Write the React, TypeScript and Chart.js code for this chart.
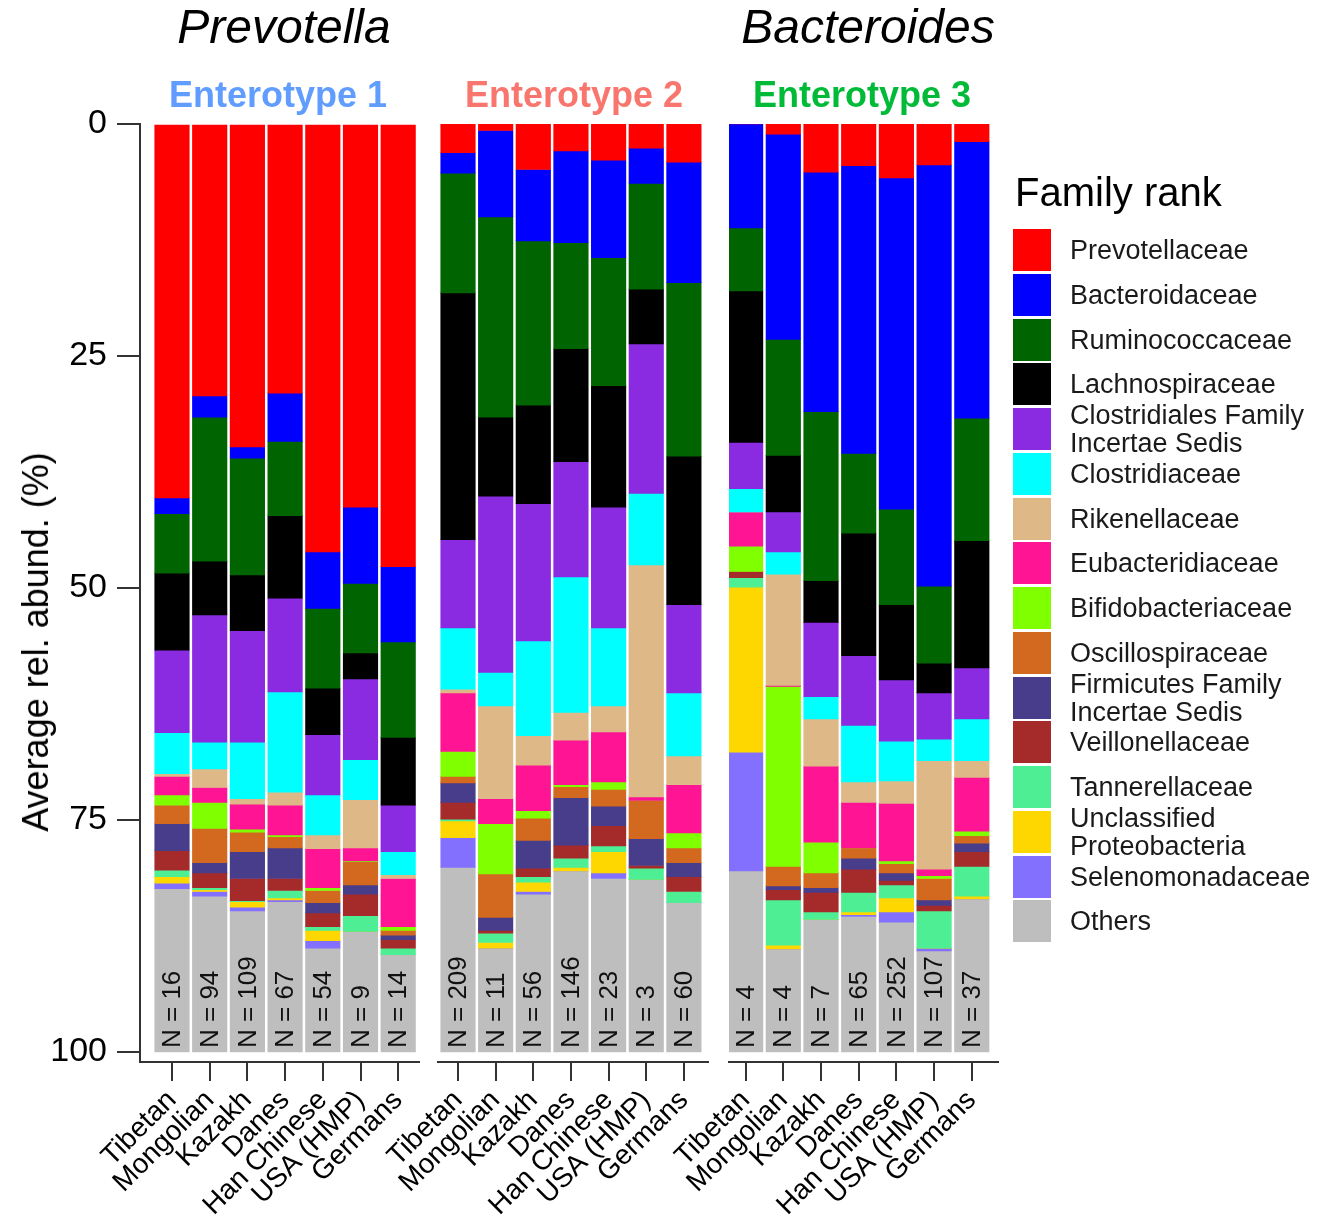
import React, { useEffect, useRef } from "react";
import { Chart, registerables } from "chart.js";

Chart.register(...registerables);

const FONT = "'Liberation Sans', Arial, Helvetica, sans-serif";

// ---------- data ----------
const populations = ["Tibetan", "Mongolian", "Kazakh", "Danes", "Han Chinese", "USA (HMP)", "Germans"];
const enterotypeNames = ["Enterotype 1", "Enterotype 2", "Enterotype 3"];
const enterotypeColors = ["#619CFF", "#F8766D", "#00BA38"];
const sampleSizesE1 = [16, 94, 109, 67, 54, 9, 14];
const sampleSizesE2 = [209, 11, 56, 146, 23, 3, 60];
const sampleSizesE3 = [4, 4, 7, 65, 252, 107, 37];
const yTicks = [0, 25, 50, 75, 100];

// each family: Enterotype 1 (7 populations), Enterotype 2 (7), Enterotype 3 (7)
const prevotellaceae = [40.3, 29.3, 34.8, 29.0, 46.1, 41.3, 47.7, 3.1, 0.7, 4.9, 2.9, 3.9, 2.6, 4.1, 0, 1.1, 5.2, 4.5, 5.8, 4.4, 1.9];
const bacteroidaceae = [1.7, 2.3, 1.2, 5.2, 6.1, 8.2, 8.1, 2.2, 9.3, 7.7, 9.9, 10.5, 3.8, 13.0, 11.2, 22.1, 25.8, 31.0, 35.7, 45.4, 29.8];
const ruminococcaceae = [6.4, 15.5, 12.6, 8.0, 8.6, 7.5, 10.3, 12.9, 21.6, 17.7, 11.4, 13.8, 11.4, 18.7, 6.8, 12.5, 18.2, 8.6, 10.3, 8.3, 13.2];
const lachnospiraceae = [8.3, 5.8, 6.0, 8.9, 5.0, 2.8, 7.3, 26.6, 8.5, 10.6, 12.2, 13.1, 5.9, 16.0, 16.3, 6.1, 4.5, 13.2, 8.1, 3.2, 13.7];
const clostridialesFIS = [8.9, 13.7, 12.0, 10.1, 6.5, 8.7, 5.0, 9.5, 19.0, 14.8, 12.4, 13.0, 16.1, 9.5, 5.0, 4.3, 8.0, 7.5, 6.6, 5.0, 5.5];
const clostridiaceae = [4.4, 2.9, 6.1, 10.8, 4.3, 4.3, 2.5, 6.6, 3.6, 10.2, 14.6, 8.4, 7.7, 6.8, 2.5, 2.4, 2.4, 6.1, 4.3, 2.3, 4.5];
const rikenellaceae = [0.3, 2.0, 0.6, 1.4, 1.5, 5.2, 0.4, 0.4, 10.0, 3.2, 3.0, 2.8, 25.0, 3.1, 0, 12.0, 5.1, 2.2, 2.4, 11.7, 1.8];
const eubacteridiaceae = [2.0, 1.6, 2.7, 3.2, 4.2, 1.4, 5.2, 6.3, 2.7, 4.9, 4.8, 5.4, 0.4, 5.2, 3.7, 0.1, 8.2, 4.9, 6.2, 0.7, 5.8];
const bifidobacteriaceae = [1.1, 2.8, 0.3, 0.2, 0.3, 0.1, 0.4, 2.7, 5.4, 0.8, 0.2, 0.8, 0, 1.6, 2.7, 19.4, 3.3, 0, 0.3, 0.3, 0.5];
const oscillospiraceae = [2.0, 3.7, 2.1, 1.2, 1.3, 2.5, 0.5, 0.7, 4.7, 2.4, 1.2, 1.8, 4.1, 1.6, 0, 2.1, 1.6, 1.1, 1.0, 2.3, 0.8];
const firmicutesFIS = [2.9, 1.1, 2.9, 3.3, 1.1, 1.0, 0.5, 2.1, 1.4, 3.0, 5.1, 2.1, 2.9, 1.5, 0, 0.4, 0.5, 1.2, 0.8, 0.6, 0.9];
const veillonellaceae = [2.1, 1.6, 2.4, 1.3, 1.5, 2.3, 0.9, 1.8, 0.3, 0.9, 1.4, 2.2, 0.3, 1.6, 0.7, 1.1, 2.1, 2.5, 0.5, 0.6, 1.6];
const tannerellaceae = [0.7, 0.2, 0.1, 0.8, 0.4, 1.7, 0.7, 0.2, 1.0, 0.6, 1.0, 0.6, 1.2, 1.2, 1.0, 4.9, 0.8, 2.1, 1.4, 4.0, 3.2];
const unclassifiedProteobacteria = [0.7, 0.2, 0.6, 0.2, 1.1, 0, 0, 1.8, 0.6, 1.0, 0.4, 2.3, 0, 0, 17.8, 0.4, 0, 0.3, 1.5, 0, 0.3];
const selenomonadaceae = [0.6, 0.5, 0.4, 0.2, 0.8, 0, 0, 3.2, 0, 0.3, 0, 0.6, 0, 0, 12.8, 0, 0, 0.2, 1.1, 0.3, 0];
const others = [17.6, 16.8, 15.2, 16.2, 11.2, 13.0, 10.5, 19.9, 11.2, 17.0, 19.5, 18.7, 18.6, 16.1, 19.5, 11.1, 14.3, 14.6, 14.0, 10.9, 16.5];

const familyLabels = [
  "Prevotellaceae", "Bacteroidaceae", "Ruminococcaceae", "Lachnospiraceae",
  "Clostridiales Family\nIncertae Sedis", "Clostridiaceae", "Rikenellaceae", "Eubacteridiaceae",
  "Bifidobacteriaceae", "Oscillospiraceae", "Firmicutes Family\nIncertae Sedis", "Veillonellaceae",
  "Tannerellaceae", "Unclassified\nProteobacteria", "Selenomonadaceae", "Others",
];
const familyColors = [
  "#FF0000", "#0000FF", "#006400", "#000000", "#8A2BE2", "#00FFFF", "#DEB887", "#FF1493",
  "#7FFF00", "#D2691E", "#483D8B", "#A52A2A", "#4EEE94", "#FFD700", "#8470FF", "#BEBEBE",
];
const familyValues = [
  prevotellaceae, bacteroidaceae, ruminococcaceae, lachnospiraceae, clostridialesFIS, clostridiaceae,
  rikenellaceae, eubacteridiaceae, bifidobacteriaceae, oscillospiraceae, firmicutesFIS, veillonellaceae,
  tannerellaceae, unclassifiedProteobacteria, selenomonadaceae, others,
];
const sampleSizes = [sampleSizesE1, sampleSizesE2, sampleSizesE3];

// ---------- layout ----------
const W = 1332;
const H = 1216;
const panelGeom = [
  { left: 140, right: 419, firstCenter: 172, pitch: 37.7, showY: true },
  { left: 438, right: 708, firstCenter: 458, pitch: 37.65, showY: false },
  { left: 729, right: 998, firstCenter: 745.6, pitch: 37.7, showY: false },
];
const PLOT_TOP = 124;
const PLOT_BOTTOM = 1062;
const Y_MAX = ((PLOT_BOTTOM - PLOT_TOP) / 928) * 100;

function makeNPlugin(ns: number[]) {
  return {
    id: "nLabels",
    afterDatasetsDraw(chart: any) {
      const ctx = chart.ctx;
      const xs = chart.scales.x;
      const ys = chart.scales.y;
      ctx.save();
      ctx.fillStyle = "#111";
      ctx.font = `26px ${FONT}`;
      ctx.textAlign = "left";
      ctx.textBaseline = "middle";
      ns.forEach((n, i) => {
        const x = xs.getPixelForValue(i);
        const y = ys.getPixelForValue(100) - 4;
        ctx.save();
        ctx.translate(x, y);
        ctx.rotate(-Math.PI / 2);
        ctx.fillText(`N = ${n}`, 0, 1);
        ctx.restore();
      });
      ctx.restore();
    },
  };
}

export default function App() {
  const refs = [useRef<HTMLCanvasElement>(null), useRef<HTMLCanvasElement>(null), useRef<HTMLCanvasElement>(null)];

  useEffect(() => {
    const charts: Chart[] = [];
    panelGeom.forEach((g, p) => {
      const canvas = refs[p].current;
      if (!canvas) return;
      const xMin = -(g.firstCenter - g.left) / g.pitch;
      const xMax = xMin + (g.right - g.left) / g.pitch;
      const datasets = familyValues.map((vals, k) => ({
        label: familyLabels[k],
        data: vals.slice(p * 7, p * 7 + 7).map((v, i) => ({ x: i, y: v })),
        backgroundColor: familyColors[k],
        borderWidth: 0,
        barThickness: 34.5,
      }));
      const chart = new Chart(canvas, {
        type: "bar",
        data: { datasets } as any,
        options: {
          responsive: false,
          animation: false,
          events: [],
          layout: { padding: { left: g.showY ? 0 : g.left, right: W - g.right, top: PLOT_TOP, bottom: 0 } },
          plugins: { legend: { display: false }, tooltip: { enabled: false }, title: { display: false } },
          scales: {
            x: {
              type: "linear",
              stacked: true,
              offset: false,
              min: xMin,
              max: xMax,
              position: "bottom",
              afterBuildTicks: (s: any) => {
                s.ticks = populations.map((_, i) => ({ value: i }));
              },
              afterFit: (s: any) => {
                s.height = H - PLOT_BOTTOM;
              },
              ticks: {
                autoSkip: false,
                maxRotation: 45,
                minRotation: 45,
                padding: 3,
                color: "#000",
                font: { family: FONT, size: 28 },
                callback: (v: any) => populations[Math.round(Number(v))],
              },
              grid: { offset: false, drawOnChartArea: false, drawTicks: true, tickLength: 19, color: "#333", lineWidth: 2 },
              border: { display: true, color: "#333", width: 2 },
            },
            y: {
              type: "linear",
              stacked: true,
              reverse: true,
              min: 0,
              max: Y_MAX,
              display: g.showY,
              afterBuildTicks: (s: any) => {
                s.ticks = yTicks.map((v) => ({ value: v }));
              },
              afterFit: (s: any) => {
                s.width = g.showY ? g.left : 0;
              },
              ticks: { padding: 10, color: "#000", font: { family: FONT, size: 34 } },
              grid: { drawOnChartArea: false, drawTicks: true, tickLength: 23, color: "#333", lineWidth: 2 },
              border: { display: true, color: "#333", width: 2 },
            },
          },
        } as any,
        plugins: [makeNPlugin(sampleSizes[p])],
      });
      charts.push(chart);
    });
    return () => charts.forEach((c) => c.destroy());
  }, []);

  const canvasStyle: React.CSSProperties = { position: "absolute", left: 0, top: 0 };
  const enterCenters = [278, 574, 862];

  return (
    <div style={{ position: "absolute", left: 0, top: 0, width: W, height: H, background: "#fff", fontFamily: FONT, overflow: "hidden" }}>
      {refs.map((r, i) => (
        <canvas key={i} ref={r} width={W} height={H} style={canvasStyle} />
      ))}
      {/* genus titles */}
      <div style={{ position: "absolute", left: 84, width: 400, top: 3, textAlign: "center", fontSize: 48, lineHeight: "48px", fontStyle: "italic", color: "#000" }}>
        Prevotella
      </div>
      <div style={{ position: "absolute", left: 668, width: 400, top: 3, textAlign: "center", fontSize: 48, lineHeight: "48px", fontStyle: "italic", color: "#000" }}>
        Bacteroides
      </div>
      {enterotypeNames.map((t, i) => (
        <div key={t} style={{ position: "absolute", left: enterCenters[i] - 150, width: 300, top: 77, textAlign: "center", fontSize: 36, lineHeight: "36px", fontWeight: "bold", color: enterotypeColors[i] }}>
          {t}
        </div>
      ))}
      {/* y axis title */}
      <div style={{ position: "absolute", left: 36, top: 642, transform: "translate(-50%, -50%) rotate(-90deg)", whiteSpace: "nowrap", fontSize: 36, lineHeight: "36px", color: "#000" }}>
        Average rel. abund. (%)
      </div>
      {/* legend */}
      <div style={{ position: "absolute", left: 1015, top: 172, fontSize: 40, lineHeight: "40px", color: "#000", whiteSpace: "nowrap" }}>
        Family rank
      </div>
      {familyLabels.map((lab, k) => (
        <div key={lab} style={{ position: "absolute", left: 1013, top: 229 + k * 44.75, height: 42, width: 319 }}>
          <div style={{ position: "absolute", left: 0, top: 0, width: 38, height: 42, background: familyColors[k] }} />
          <div style={{ position: "absolute", left: 57, top: 21, transform: "translateY(-50%)", fontSize: 27, lineHeight: "28px", color: "#1a1a1a", whiteSpace: "pre" }}>
            {lab}
          </div>
        </div>
      ))}
    </div>
  );
}
